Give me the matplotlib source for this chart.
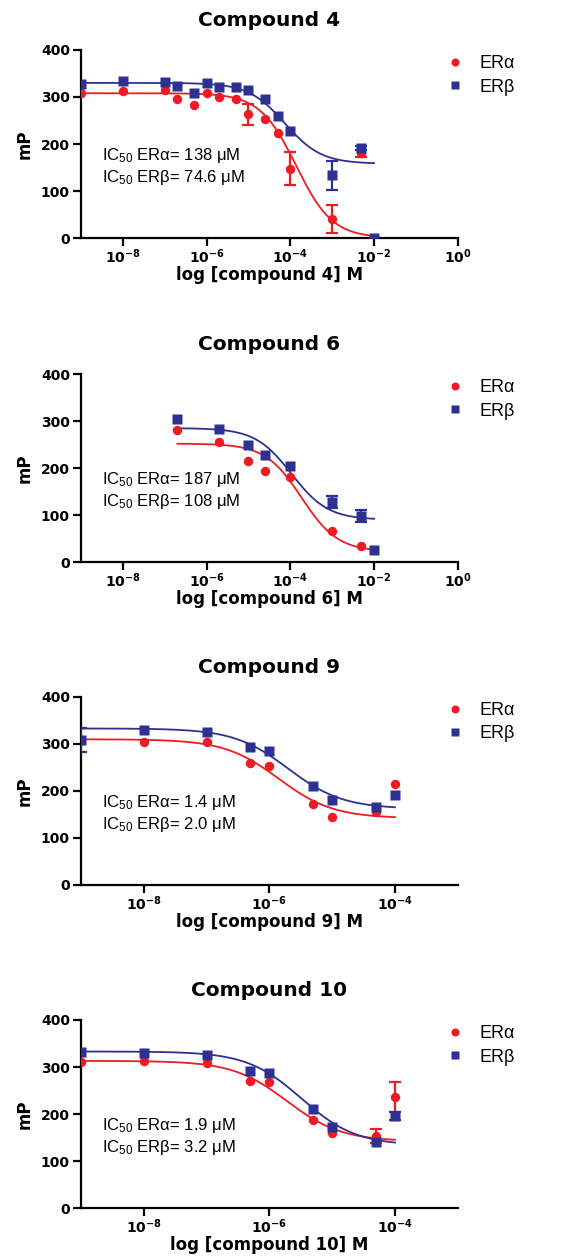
import matplotlib
matplotlib.use('Agg')
import matplotlib.pyplot as plt
import numpy as np

# ==========================================
# data
# ==========================================
titles = ['Compound 4', 'Compound 6', 'Compound 9', 'Compound 10']
xlabels = ['log [compound 4] M', 'log [compound 6] M',
           'log [compound 9] M', 'log [compound 10] M']
ic50_alpha_txt = ['138 μM', '187 μM', '1.4 μM', '1.9 μM']
ic50_beta_txt = ['74.6 μM', '108 μM', '2.0 μM', '3.2 μM']

# compound 4
c4_conc = [1e-9, 1e-8, 1e-7, 2e-7, 5e-7, 1e-6, 2e-6, 5e-6, 1e-5, 2.5e-5, 5e-5, 1e-4, 1e-3, 5e-3, 1e-2]
c4_a = [308, 312, 314, 296, 283, 309, 300, 295, 263, 253, 224, 147, 41, 180, np.nan]
c4_a_err = [0, 0, 0, 0, 0, 0, 0, 0, 22, 0, 0, 35, 30, 8, 0]
c4_b = [328, 333, 331, 324, 308, 329, 321, 322, 314, 295, 260, 227, 133, 191, 0]
c4_b_err = [0, 0, 0, 0, 0, 0, 0, 0, 0, 0, 0, 0, 30, 4, 0]

# compound 6
c6_conc = [2e-7, 2e-6, 1e-5, 2.5e-5, 1e-4, 1e-3, 5e-3, 1e-2]
c6_a = [280, 256, 215, 193, 180, 66, 34, np.nan]
c6_a_err = [0, 0, 0, 0, 0, 0, 0, 0]
c6_b = [304, 284, 249, 228, 205, 127, 98, 25]
c6_b_err = [0, 0, 0, 0, 0, 13, 13, 0]

# compound 9
c9_conc = [1e-9, 1e-8, 1e-7, 5e-7, 1e-6, 5e-6, 1e-5, 5e-5, 1e-4]
c9_a = [np.nan, 305, 305, 260, 254, 173, 145, 156, 215]
c9_a_err = [0, 0, 0, 0, 0, 0, 0, 0, 0]
c9_b = [308, 330, 325, 293, 286, 211, 180, 165, 191]
c9_b_err = [26, 0, 0, 0, 0, 0, 0, 0, 0]

# compound 10
c10_conc = [1e-9, 1e-8, 1e-7, 5e-7, 1e-6, 5e-6, 1e-5, 5e-5, 1e-4]
c10_a = [310, 313, 309, 270, 268, 188, 159, 153, 236]
c10_a_err = [0, 0, 0, 0, 0, 0, 0, 15, 32]
c10_b = [332, 330, 325, 291, 288, 211, 173, 140, 196]
c10_b_err = [0, 0, 0, 0, 0, 0, 0, 0, 9]

# fitted dose-response curves: (top, bottom, log IC50, start, end)
fit_a = [(308, 0, -3.86, 1e-9, 1e-2), (252, 22, -3.73, 2e-7, 1e-2),
         (310, 142, -5.85, 1e-9, 1e-4), (313, 142, -5.72, 1e-9, 1e-4)]
fit_b = [(330, 158, -4.13, 1e-9, 1e-2), (285, 90, -3.97, 2e-7, 1e-2),
         (333, 162, -5.70, 1e-9, 1e-4), (333, 133, -5.49, 1e-9, 1e-4)]

panels = [
    (c4_conc, c4_a, c4_a_err, c4_b, c4_b_err),
    (c6_conc, c6_a, c6_a_err, c6_b, c6_b_err),
    (c9_conc, c9_a, c9_a_err, c9_b, c9_b_err),
    (c10_conc, c10_a, c10_a_err, c10_b, c10_b_err),
]
xlims = [(1e-9, 1), (1e-9, 1), (1e-9, 1e-3), (1e-9, 1e-3)]
xticks = [[1e-8, 1e-6, 1e-4, 1e-2, 1], [1e-8, 1e-6, 1e-4, 1e-2, 1],
          [1e-8, 1e-6, 1e-4], [1e-8, 1e-6, 1e-4]]
xticklabels = [[r'$\mathbf{10^{-8}}$', r'$\mathbf{10^{-6}}$', r'$\mathbf{10^{-4}}$',
                r'$\mathbf{10^{-2}}$', r'$\mathbf{10^{0}}$'],
               [r'$\mathbf{10^{-8}}$', r'$\mathbf{10^{-6}}$', r'$\mathbf{10^{-4}}$',
                r'$\mathbf{10^{-2}}$', r'$\mathbf{10^{0}}$'],
               [r'$\mathbf{10^{-8}}$', r'$\mathbf{10^{-6}}$', r'$\mathbf{10^{-4}}$'],
               [r'$\mathbf{10^{-8}}$', r'$\mathbf{10^{-6}}$', r'$\mathbf{10^{-4}}$']]

# ==========================================
# style
# ==========================================
plt.rcParams['font.family'] = ['Liberation Sans', 'DejaVu Sans']
plt.rcParams['mathtext.fontset'] = 'custom'
plt.rcParams['mathtext.rm'] = 'Liberation Sans'
plt.rcParams['mathtext.bf'] = 'DejaVu Sans:bold'
plt.rcParams['mathtext.it'] = 'Liberation Sans:italic'
plt.rcParams['axes.linewidth'] = 1.6

RED = '#ED1C24'
BLUE = '#2E3192'
BOLD = dict(family='DejaVu Sans', fontweight='bold')

fig = plt.figure(figsize=(5.64, 12.56), dpi=100)
bottoms = [0.8105, 0.5525, 0.2954, 0.0382]
ax_h = 0.1497


def logistic(x, top, bottom, logic50):
    return bottom + (top - bottom) / (1 + 10 ** (np.log10(x) - logic50))


for i, (conc, ya, ea, yb, eb) in enumerate(panels):
    ax = fig.add_axes([0.1436, bottoms[i], 0.668, ax_h])
    ax.set_xscale('log')

    # fitted curves
    for fit, col in ((fit_a[i], RED), (fit_b[i], BLUE)):
        top, bot, lic, x0, x1 = fit
        xs = np.logspace(np.log10(x0), np.log10(x1), 200)
        ax.plot(xs, logistic(xs, top, bot, lic), color=col, lw=1.3, zorder=2)

    conc = np.array(conc)
    ea = np.array(ea, dtype=float)
    eb = np.array(eb, dtype=float)
    ea[ea == 0] = np.nan
    eb[eb == 0] = np.nan

    ax.errorbar(conc, ya, yerr=ea, fmt='none', ecolor=RED, elinewidth=1.6,
                capsize=4.5, capthick=1.6, zorder=3)
    ax.errorbar(conc, yb, yerr=eb, fmt='none', ecolor=BLUE, elinewidth=1.6,
                capsize=4.5, capthick=1.6, zorder=3)
    ax.plot(conc, ya, 'o', color=RED, ms=6.8, mec='none', zorder=4, label='ERα')
    ax.plot(conc, yb, 's', color=BLUE, ms=6.6, mec='none', zorder=5, label='ERβ')

    ax.set_xlim(*xlims[i])
    ax.set_ylim(0, 400)
    ax.set_yticks([0, 100, 200, 300, 400])
    ax.set_yticklabels(['0', '100', '200', '300', '400'], fontsize=10, **BOLD)
    ax.set_xticks(xticks[i])
    ax.set_xticklabels(xticklabels[i], fontsize=10)
    ax.xaxis.set_minor_locator(matplotlib.ticker.NullLocator())
    ax.tick_params(direction='out', length=6, width=1.6, pad=2)
    ax.tick_params(axis='x', pad=1)

    ax.spines['top'].set_visible(False)
    ax.spines['right'].set_visible(False)

    ax.set_title(titles[i], fontsize=14.5, pad=17, **BOLD)
    ax.set_xlabel(xlabels[i], fontsize=12, labelpad=0, **BOLD)
    ax.set_ylabel('mP', fontsize=12, labelpad=5, **BOLD)

    ax.text(0.055, 0.38, 'IC$_{50}$ ERα= ' + ic50_alpha_txt[i] + '\n'
            'IC$_{50}$ ERβ= ' + ic50_beta_txt[i],
            transform=ax.transAxes, fontsize=12, va='center', ha='left',
            linespacing=1.2)

    leg = ax.legend(loc='upper left', bbox_to_anchor=(0.915, 1.03), frameon=False,
                    fontsize=13, handletextpad=0.4, markerscale=0.85,
                    labelspacing=0.35, borderaxespad=0.2)

fig.savefig('out.png', dpi=100)
